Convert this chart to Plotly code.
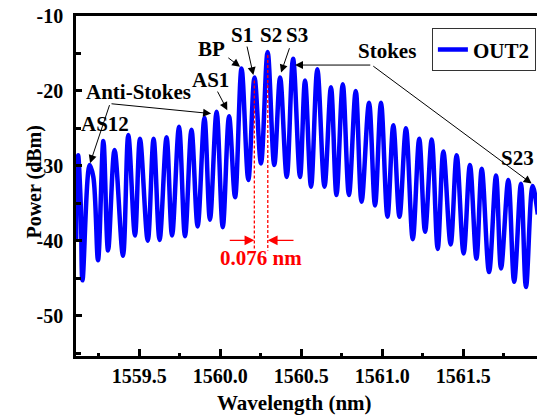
import plotly.graph_objects as go

# ---- data (alternating extrema) ----
wavelength_nm = [
    1559.110, 1559.122, 1559.138, 1559.149, 1559.193, 1559.216, 1559.245, 1559.278,
    1559.307, 1559.347, 1559.399, 1559.432, 1559.473, 1559.504, 1559.552, 1559.588,
    1559.625, 1559.668, 1559.702, 1559.745, 1559.782, 1559.822, 1559.860, 1559.902,
    1559.936, 1559.977, 1560.015, 1560.054, 1560.091, 1560.131, 1560.173, 1560.211,
    1560.251, 1560.292, 1560.333, 1560.369, 1560.410, 1560.449, 1560.492, 1560.523,
    1560.560, 1560.599, 1560.643, 1560.683, 1560.717, 1560.756, 1560.794, 1560.836,
    1560.872, 1560.918, 1560.955, 1560.992, 1561.032, 1561.068, 1561.106, 1561.146,
    1561.188, 1561.228, 1561.264, 1561.305, 1561.342, 1561.377, 1561.422, 1561.459,
    1561.502, 1561.541, 1561.581, 1561.614, 1561.659, 1561.702, 1561.733, 1561.778,
    1561.814, 1561.856, 1561.887, 1561.928, 1561.960,
]
power_dbm = [
    -40.0, -28.6, -35.0, -45.3, -29.9, -31.5, -42.6, -26.7,
    -41.3, -27.9, -42.0, -25.9, -39.3, -26.4, -40.0, -26.4,
    -39.9, -26.2, -39.3, -24.8, -39.4, -25.2, -38.1, -23.6,
    -37.2, -22.8, -38.2, -23.4, -34.2, -17.0, -31.9, -18.2,
    -29.7, -14.8, -29.9, -18.2, -31.5, -15.7, -31.5, -18.6,
    -32.8, -17.1, -32.8, -19.5, -33.9, -19.1, -33.9, -20.0,
    -34.8, -21.6, -35.3, -21.6, -36.8, -24.6, -36.8, -25.0,
    -39.8, -26.4, -38.8, -26.5, -41.1, -28.1, -40.5, -28.6,
    -41.7, -29.9, -42.4, -30.4, -44.2, -31.3, -43.7, -31.9,
    -45.5, -32.4, -46.2, -32.7, -36.5,
]
series_name = "OUT2"

x_tick_vals = [1559.5, 1560.0, 1560.5, 1561.0, 1561.5]
x_tick_text = ["1559.5", "1560.0", "1560.5", "1561.0", "1561.5"]
y_tick_vals = [-10, -20, -30, -40, -50]
y_tick_text = ["-10", "-20", "-30", "-40", "-50"]

spacing_label = "0.076 nm"
s1_wl, s2_wl = 1560.210, 1560.293

FONT = "Liberation Serif"
BLUE = "#0000FF"
RED = "#FF0000"

fig = go.Figure()
fig.add_trace(go.Scatter(
    x=wavelength_nm, y=power_dbm, mode="lines", name=series_name,
    line=dict(color=BLUE, width=4.5, shape="spline", smoothing=1.0),
    showlegend=True,
))

# dashed red marker lines at S1 and S2
for wl, ytop in [(s1_wl, -18.6), (s2_wl, -15.2)]:
    fig.add_shape(type="line", xref="x", yref="y", x0=wl, x1=wl, y0=ytop, y1=-41.3,
                  line=dict(color=RED, width=1.3, dash="3px,2px"))

ann = []

def label(text, x, y, color="black", size=21):
    ann.append(dict(x=x, y=y, xref="x", yref="y", text=text, showarrow=False,
                    xanchor="center", yanchor="middle",
                    font=dict(family=FONT, size=size, color=color, weight="bold")))

def arrow(x0, y0, x1, y1, color="black", width=1.0, size=1.6):
    ann.append(dict(x=x1, y=y1, ax=x0, ay=y0, xref="x", yref="y", axref="x", ayref="y",
                    text="", showarrow=True, arrowhead=2, arrowsize=size,
                    arrowwidth=width, arrowcolor=color, standoff=0, startstandoff=0))

label("AS12", 1559.288, -24.4)
label("Anti-Stokes", 1559.494, -20.1)
label("AS1", 1559.941, -18.6)
label("BP", 1559.947, -14.4)
label("S1", 1560.134, -12.55)
label("S2", 1560.312, -12.55)
label("S3", 1560.472, -12.55)
label("Stokes", 1561.032, -14.65)
label("S23", 1561.835, -28.95)
label(spacing_label, 1560.251, -42.3, color=RED)

# Anti-Stokes bracket
arrow(1559.319, -21.70, 1559.196, -29.65)
arrow(1559.319, -21.70, 1559.943, -23.03)
# single arrows
arrow(1559.978, -19.89, 1560.043, -22.57)   # AS1
arrow(1560.040, -15.44, 1560.122, -16.78)   # BP
arrow(1560.163, -13.88, 1560.204, -17.89)   # S1
arrow(1560.430, -14.10, 1560.375, -17.55)   # S3
# Stokes bracket
arrow(1560.935, -16.55, 1560.461, -16.55)
arrow(1560.935, -16.55, 1561.922, -32.37)
# red spacing arrows
arrow(1560.049, -39.95, s1_wl, -39.95, color=RED, width=1.3, size=1.5)
arrow(1560.461, -39.95, s2_wl, -39.95, color=RED, width=1.3, size=1.5)

# axis titles
ann.append(dict(x=0.475, y=-0.138, xref="paper", yref="paper", text="Wavelength (nm)",
                showarrow=False, xanchor="center", yanchor="middle",
                font=dict(family=FONT, size=21, color="black", weight="bold")))
ann.append(dict(x=-0.089, y=0.513, xref="paper", yref="paper", text="Power (dBm)",
                showarrow=False, xanchor="center", yanchor="middle", textangle=-90,
                font=dict(family=FONT, size=20, color="black", weight="bold")))

tickfont = dict(family=FONT, size=20, color="black", weight="bold")

fig.update_layout(
    width=537, height=416,
    margin=dict(l=76, r=0, t=16, b=60),
    paper_bgcolor="white", plot_bgcolor="white",
    annotations=ann,
    legend=dict(x=0.772, y=0.964, xanchor="left", yanchor="top",
                bgcolor="white", bordercolor="#333333", borderwidth=1,
                font=dict(family=FONT, size=21, color="black", weight="bold"),
                itemwidth=30, tracegroupgap=0),
    xaxis=dict(range=[1559.109, 1561.955], tickmode="array", tickvals=x_tick_vals,
               ticktext=x_tick_text, ticks="inside", ticklen=7, tickwidth=2.5,
               tickcolor="black", showline=True, linecolor="black", linewidth=2.5,
               mirror=True, showgrid=False, zeroline=False, tickfont=tickfont,
               ticklabelstandoff=0,
               minor=dict(dtick=0.25, tick0=1559.25, ticks="inside", ticklen=3,
                          tickwidth=2.5, tickcolor="black", showgrid=False)),
    yaxis=dict(range=[-55.4, -10], tickmode="array", tickvals=y_tick_vals,
               ticktext=y_tick_text, ticks="inside", ticklen=6, tickwidth=2.5,
               tickcolor="black", showline=True, linecolor="black", linewidth=2.5,
               mirror=False, showgrid=False, zeroline=False, tickfont=tickfont,
               ticklabelstandoff=6,
               minor=dict(dtick=5, tick0=-15, ticks="inside", ticklen=5,
                          tickwidth=2.5, tickcolor="black", showgrid=False)),
)

fig.write_html("out.html", config={"displayModeBar": False},
               post_script="document.body.style.margin='0';document.body.style.overflow='hidden';")
